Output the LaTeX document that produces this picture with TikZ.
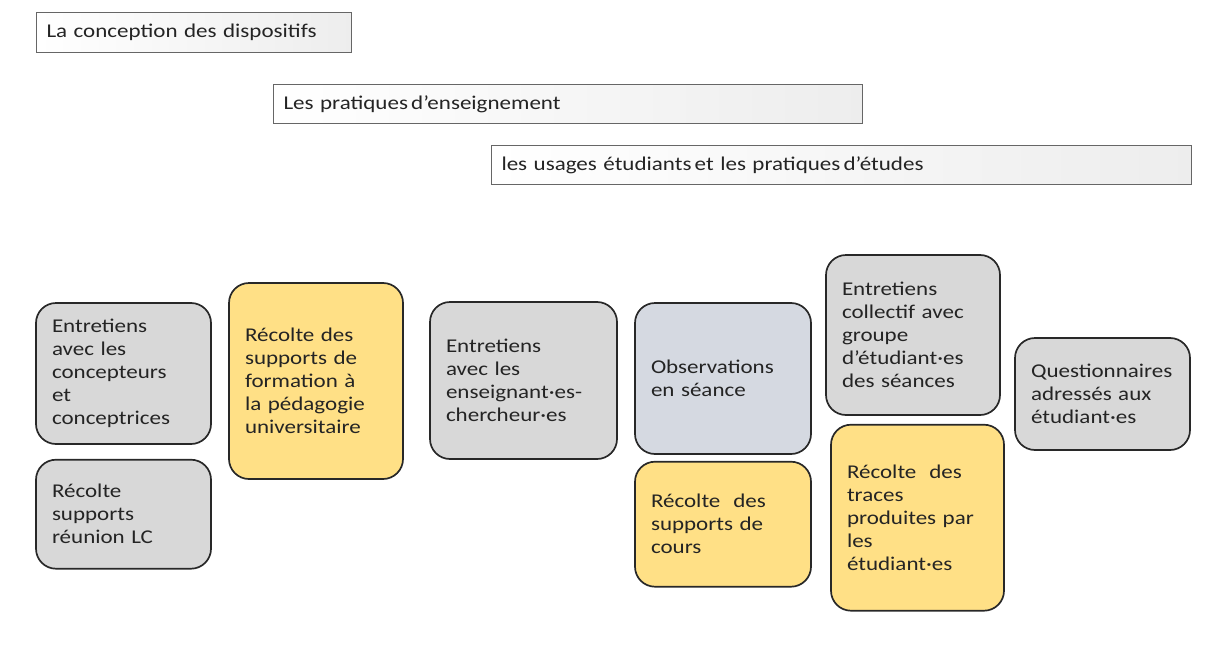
\documentclass[tikz,border=0pt]{standalone}
\usepackage{fontspec}
\setmainfont{Carlito}[FakeStretch=1.18]
\usetikzlibrary{positioning}
\definecolor{grisbloc}{RGB}{216,216,216}
\definecolor{bleubloc}{RGB}{213,217,225}
\definecolor{jaunebloc}{RGB}{255,224,134}
\definecolor{contour}{RGB}{40,40,40}
\definecolor{texte}{RGB}{36,36,36}

\begin{document}
\begin{tikzpicture}[x=1pt,y=-1pt,
	every node/.style={font=\fontsize{19.5}{23}\selectfont,text=texte},
	axe/.style={rectangle,draw=black!60,line width=1pt,left color=white,right color=black!7,
		anchor=north west,align=left,inner xsep=10pt,inner ysep=0pt,minimum height=39pt},
	bloc/.style={rectangle,rounded corners=20pt,draw=contour,line width=1.7pt,
		align=left,inner xsep=16pt,inner ysep=0pt,text width=143pt},
	gris/.style={bloc,fill=grisbloc},
	jaune/.style={bloc,fill=jaunebloc}]

\useasboundingbox (0,0) rectangle (1209,661);

\node[axe,text width=295pt,minimum height=40pt]	(conception)	at (36,12)	{La conception des dispositifs};
\node[axe,text width=569pt]	(enseignement)	at (273,84)	{Les pratiques\,d’enseignement};
\node[axe,text width=680pt]	(etudes)	at (491,145)	{les usages étudiants\,et les pratiques\,d’études};

\node[gris,minimum height=141pt]	(entconc)	at (123.5,373.5)	{Entretiens\\avec les\\concepteurs\\et\\conceptrices};
\node[gris,minimum height=109pt]	(reclc)	[below=14pt of entconc]	{Récolte\\supports\\réunion LC};
\node[jaune,text width=142pt,minimum height=196pt]	(recform)	at (316,381)	{Récolte des\\supports de\\formation à\\la pédagogie\\universitaire};
\node[gris,text width=155pt,minimum height=157pt]	(entens)	at (523.5,380.5)	{Entretiens\\avec les\\enseignant·es-\\chercheur·es};
\node[bloc,fill=bleubloc,text width=144pt,minimum height=151pt]	(observ)	at (723,378.5)	{Observations\\en séance};
\node[jaune,text width=144pt,minimum height=125pt]	(reccours)	[below=6pt of observ]	{Récolte~ des\\supports de\\cours};
\node[gris,text width=142pt,minimum height=160pt]	(entcoll)	at (913,335)	{Entretiens\\collectif avec\\groupe\\d’étudiant·es\\des séances};
\node[jaune,text width=141pt,minimum height=186pt]	(rectraces)	[below=8pt of entcoll,xshift=4.5pt]	{Récolte~ des\\traces\\produites par\\les\\étudiant·es};
\node[gris,minimum height=112pt]	(quest)	at (1102.5,394)	{Questionnaires\\adressés aux\\étudiant·es};

\end{tikzpicture}
\end{document}
